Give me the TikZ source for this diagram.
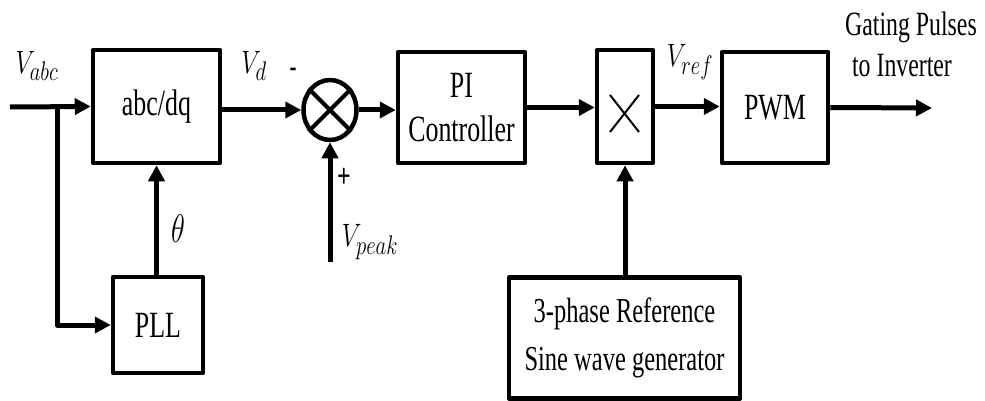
\documentclass[tikz,border=0pt]{standalone}
\usepackage{fontspec}
\setmainfont[FakeStretch=0.7]{Liberation Serif}
\usetikzlibrary{shapes.geometric,arrows.meta}
\newcommand{\mylbl}[1]{\scalebox{1.0}[1.3]{\fontsize{24.88}{30}\selectfont$#1$}}
\begin{document}
\begin{tikzpicture}[x=1pt,y=-1pt,line join=round,
  blk/.style={draw,line width=4.5pt,rectangle,inner sep=0pt,align=center,font=\fontsize{37}{42}\selectfont},
  wire/.style={line width=5pt,-{Triangle[length=16pt,width=16pt]}},
  lbl/.style={inner sep=0pt},
  txt/.style={font=\fontsize{34}{38}\selectfont,inner sep=0pt,align=center}]
\useasboundingbox (0,0) rectangle (985,401);
\node[blk,minimum width=127pt,minimum height=113pt] (abc) at (156.5,106.5) {abc/dq};
\node[draw,ellipse,line width=4.5pt,minimum width=53pt,minimum height=60pt,inner sep=0pt] (sum) at (330,110) {};
\draw[line width=4pt] (sum.45) -- (sum.225) (sum.135) -- (sum.315);
\node[blk,minimum width=127pt,minimum height=111pt] (pi) at (461.5,107.5) {PI\\[2pt]Controller};
\node[blk,minimum width=56pt,minimum height=113pt] (mult) at (625,106.5) {};
\draw[line width=2pt] (610,95) -- (639,132) (639,95) -- (610,132);
\node[blk,minimum width=106pt,minimum height=111pt] (pwm) at (775,107.5) {PWM};
\node[blk,minimum width=90pt,minimum height=96pt] (pll) at (158,325) {PLL};
\node[blk,minimum width=231pt,minimum height=121pt,font=\fontsize{35}{42}\selectfont] (gen) at (624.5,338) {3-phase Reference\\[6pt]Sine wave generator};
\coordinate (vin) at (10,107);
\coordinate (br) at (57,107);
\coordinate (vpk) at (330,262);
\coordinate (out) at (932,108);
\draw[wire] (vin) -- (abc.west);
\draw[wire] (br) |- (pll.west);
\draw[wire] (pll.north -| abc.south) -- (abc.south);
\draw[wire] (abc.east |- sum.west) -- (sum.west);
\draw[wire] (vpk) -- (sum.south);
\draw[wire] (sum.east) -- (pi.west |- sum.east);
\draw[wire] (pi.east) -- (mult.west |- pi.east);
\draw[wire] (mult.east) -- (pwm.west |- mult.east);
\draw[wire] (pwm.east) -- (out);
\draw[wire] (gen.north -| mult.south) -- (mult.south);
\node[lbl] (lvabc) at (37,66) {\mylbl{V_{abc}}};
\node[lbl] (lvd) at (254,66) {\mylbl{V_{d}}};
\node[font=\bfseries\fontsize{30}{30}\selectfont,inner sep=0pt] (lminus) at (293,72) {-};
\node[font=\bfseries\fontsize{34}{34}\selectfont,inner sep=0pt] (lplus) at (344,178) {+};
\node[lbl] (lvpk) at (370,242) {\mylbl{V_{peak}}};
\node[lbl] (ltheta) at (178,229) {\scalebox{1.15}[1.6]{\fontsize{24.88}{30}\selectfont$\theta$}};
\node[lbl] (lvref) at (690,62) {\mylbl{V_{ref}}};
\node[txt] (lgate) at (911,27) {Gating Pulses};
\node[txt] (linv) at (902,66) {to Inverter};
\end{tikzpicture}
\end{document}
